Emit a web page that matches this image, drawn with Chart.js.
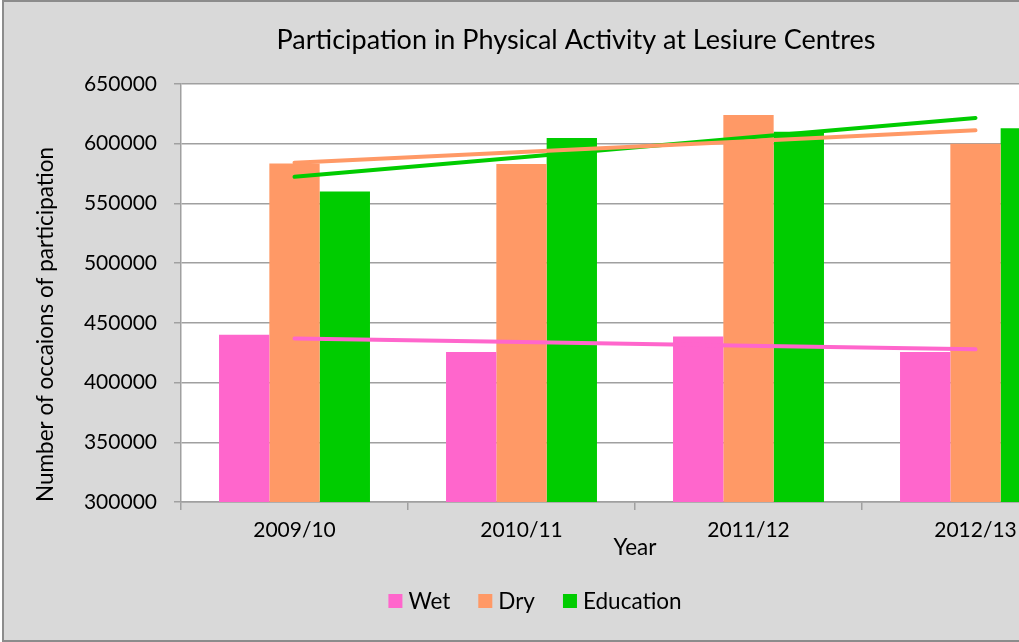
<!DOCTYPE html>
<html><head><meta charset="utf-8">
<script src="https://cdn.jsdelivr.net/npm/chart.js@4.4.1/dist/chart.umd.min.js"></script>
<style>
html,body{margin:0;padding:0;overflow:hidden;background:#fff;width:1019px;height:642px}
#box{position:absolute;left:2px;top:0;width:1144px;height:638px;border:2px solid #8c8c8c;background:#d9d9d9}
canvas{display:block}
</style></head><body>
<div id="box"><canvas id="c" width="1144" height="638"></canvas></div>
<script>
const categories = ['2009/10', '2010/11', '2011/12', '2012/13'];
const wet = [440000, 425500, 438500, 425500];
const dry = [583500, 583000, 624000, 600000];
const education = [560000, 604800, 610000, 613000];
const seriesNames = ['Wet', 'Dry', 'Education'];
const seriesColors = ['#ff66cc', '#ff9966', '#00cc00'];
const yMin = 300000, yMax = 650000, yStep = 50000;

// Excel-style linear trendline (least squares) from each series
function linearTrend(vals) {
  const n = vals.length, xm = (n - 1) / 2;
  const ym = vals.reduce((a, b) => a + b, 0) / n;
  let num = 0, den = 0;
  vals.forEach((v, i) => { num += (i - xm) * (v - ym); den += (i - xm) * (i - xm); });
  const m = num / den;
  return vals.map((_, i) => ym + m * (i - xm));
}

const FONT = 'Lato';
const gridColor = '#a0a0a0';

const plotBg = {
  id: 'plotBg',
  beforeDraw(chart) {
    const {ctx, chartArea: a} = chart;
    ctx.save(); ctx.fillStyle = '#ffffff';
    ctx.fillRect(a.left, a.top, a.right - a.left, a.bottom - a.top);
    ctx.restore();
  }
};

const customLegend = {
  id: 'customLegend',
  afterDraw(chart) {
    const ctx = chart.ctx;
    ctx.save();
    ctx.font = '22.5px ' + FONT;
    ctx.textBaseline = 'middle';
    ctx.textAlign = 'left';
    const box = 14, gapBox = 6, gapItem = 28;
    const widths = seriesNames.map(t => box + gapBox + ctx.measureText(t).width);
    const total = widths.reduce((a, b) => a + b, 0) + gapItem * (seriesNames.length - 1);
    let x = 531 - total / 2;
    const yc = 599;
    seriesNames.forEach((t, i) => {
      ctx.fillStyle = seriesColors[i];
      ctx.fillRect(x, yc - box / 2, box, box);
      ctx.fillStyle = '#000';
      ctx.fillText(t, x + box + gapBox, yc + 1);
      x += widths[i] + gapItem;
    });
    ctx.restore();
  }
};

const barDs = (label, data, color) => ({
  type: 'bar', label, data, backgroundColor: color, borderWidth: 0,
  categoryPercentage: 0.665, barPercentage: 1.0, order: 1
});
const lineDs = (label, data, color) => ({
  type: 'line', label, data, borderColor: color, backgroundColor: color,
  borderWidth: 4, pointRadius: 0, fill: false, tension: 0,
  borderCapStyle: 'round', order: 0
});

new Chart(document.getElementById('c'), {
  type: 'bar',
  data: {
    labels: categories,
    datasets: [
      barDs(seriesNames[0], wet, seriesColors[0]),
      barDs(seriesNames[1], dry, seriesColors[1]),
      barDs(seriesNames[2], education, seriesColors[2]),
      lineDs('Linear (Wet)', linearTrend(wet), seriesColors[0]),
      lineDs('Linear (Dry)', linearTrend(dry), seriesColors[1]),
      lineDs('Linear (Education)', linearTrend(education), seriesColors[2])
    ]
  },
  options: {
    responsive: false,
    animation: false,
    layout: { padding: { left: 0, right: 0, top: 0, bottom: 78 } },
    plugins: {
      legend: { display: false },
      tooltip: { enabled: false },
      title: {
        display: true,
        text: 'Participation in Physical Activity at Lesiure Centres',
        color: '#000',
        font: { family: FONT, size: 27, weight: 'normal' },
        padding: { top: 22, bottom: 27.6 }
      }
    },
    scales: {
      x: {
        offset: true,
        grid: { display: true, drawOnChartArea: false, drawTicks: true, tickLength: 8, color: gridColor, lineWidth: 1.5, offset: true },
        border: { display: true, color: gridColor, width: 1.5 },
        ticks: { color: '#000', font: { family: FONT, size: 21 }, padding: 8, maxRotation: 0 },
        title: { display: true, text: 'Year', color: '#000', font: { family: FONT, size: 22.5 }, padding: { top: 0, bottom: 0.5 } },
        afterFit(s) { s.height = 60; }
      },
      y: {
        min: yMin, max: yMax,
        grid: { color: gridColor, lineWidth: 1.5, tickLength: 7, drawTicks: true },
        border: { display: true, color: gridColor, width: 1.5 },
        ticks: { stepSize: yStep, color: '#000', font: { family: FONT, size: 21 }, padding: 17, callback: v => String(v) },
        title: { display: true, text: 'Number of occaions of participation', align: 'start', color: '#000', font: { family: FONT, size: 22.5 }, padding: { top: 28.5 } },
        afterFit(s) { s.width = 177; }
      },
      yRightSpace: {
        position: 'right',
        display: true,
        grid: { display: false, drawOnChartArea: false },
        border: { display: false },
        ticks: { display: false },
        afterFit(s) { s.width = 59; }
      }
    }
  },
  plugins: [plotBg, customLegend]
});
</script>
</body></html>
